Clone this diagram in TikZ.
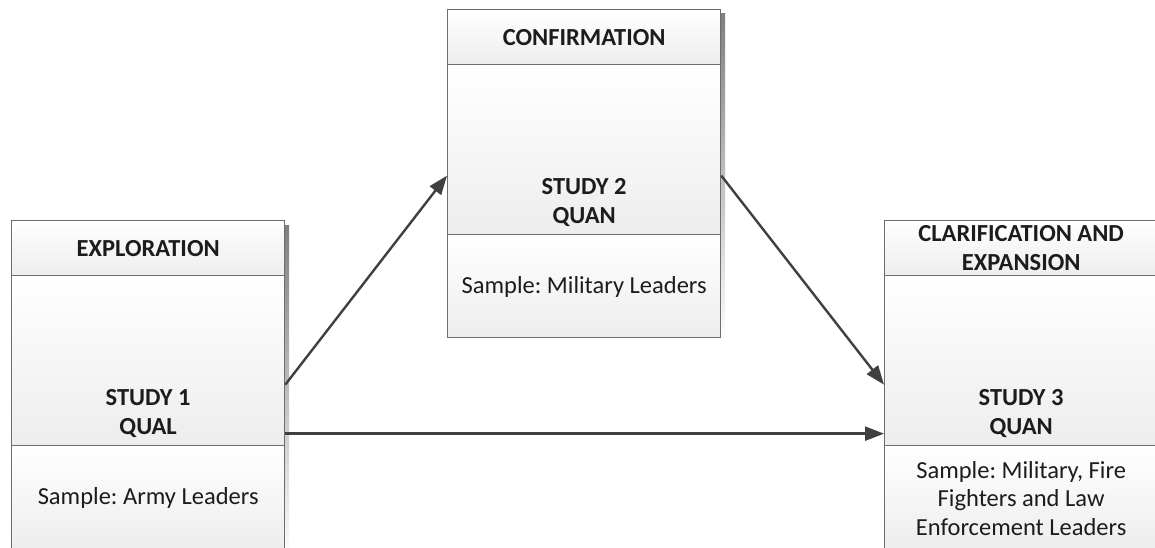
\documentclass[tikz,border=0pt]{standalone}
\usepackage{fontspec}
\setmainfont{Carlito}
\frenchspacing
\usetikzlibrary{arrows.meta}
\definecolor{edge}{HTML}{6E6E6E}
\definecolor{arrowgray}{HTML}{404040}
\definecolor{shade}{HTML}{E6E6E6}
\definecolor{ink}{HTML}{1C1C1C}
\tikzset{
  section/.style={draw=edge, line width=1.3pt, top color=white, bottom color=black!7,
    minimum width=273pt, inner sep=0pt, anchor=north west},
  headbox/.style={section, minimum height=55pt},
  bodybox/.style={section, minimum height=170pt},
  samplebox/.style={section, minimum height=103pt},
  txt/.style={text=ink, align=center, inner sep=0pt, font=\fontsize{24.5}{28.5}\selectfont},
  boldtxt/.style={txt, font=\fontsize{24.5}{28.5}\selectfont\bfseries},
  flow/.style={draw=arrowgray, line width=2.4pt, -{Triangle[length=19pt,width=14pt]}}
}
\begin{document}
\begin{tikzpicture}[x=1pt,y=-1pt]
\useasboundingbox (0,0) rectangle (1155,548);

% shadows behind the three boxes
\fill[shade] (16,225) rectangle (289,560);
\fill[shade] (452,14) rectangle (725,342);
\fill[shade] (889,225) rectangle (1162,560);

% Study 1
\node[headbox] (h1) at (11,220) {};
\node[bodybox] (b1) at (11,275) {};
\node[samplebox] (s1) at (11,445) {};
\node[boldtxt] (h1t) at (h1.center) {EXPLORATION};
\node[boldtxt, anchor=south, text depth=0pt] (b1t) at ([yshift=12pt]b1.south) {STUDY 1\\QUAL};
\node[txt] (s1t) at ([yshift=-1pt]s1.center) {Sample: Army Leaders};

% Study 2
\node[headbox] (h2) at (447,9) {};
\node[bodybox] (b2) at (447,64) {};
\node[samplebox] (s2) at (447,234) {};
\node[boldtxt] (h2t) at (h2.center) {CONFIRMATION};
\node[boldtxt, anchor=south, text depth=0pt] (b2t) at ([yshift=12pt]b2.south) {STUDY 2\\QUAN};
\node[txt] (s2t) at ([yshift=-1pt]s2.center) {Sample: Military Leaders};

% Study 3
\node[headbox] (h3) at (884,220) {};
\node[bodybox] (b3) at (884,275) {};
\node[samplebox] (s3) at (884,445) {};
\node[boldtxt] (h3t) at (h3.center) {CLARIFICATION AND\\EXPANSION};
\node[boldtxt, anchor=south, text depth=0pt] (b3t) at ([yshift=12pt]b3.south) {STUDY 3\\QUAN};
\node[txt] (s3t) at ([yshift=-1pt]s3.center) {Sample: Military, Fire\\Fighters and Law\\Enforcement Leaders};

% connectors
\draw[flow] ([yshift=-24pt]b1.east) -- ([yshift=-26pt]b2.west);
\draw[flow] ([yshift=-26pt]b2.east) -- ([yshift=-24pt]b3.west);
\draw[flow] ([yshift=-73pt]b1.east) -- ([yshift=-73pt]b3.west);
\end{tikzpicture}
\end{document}
